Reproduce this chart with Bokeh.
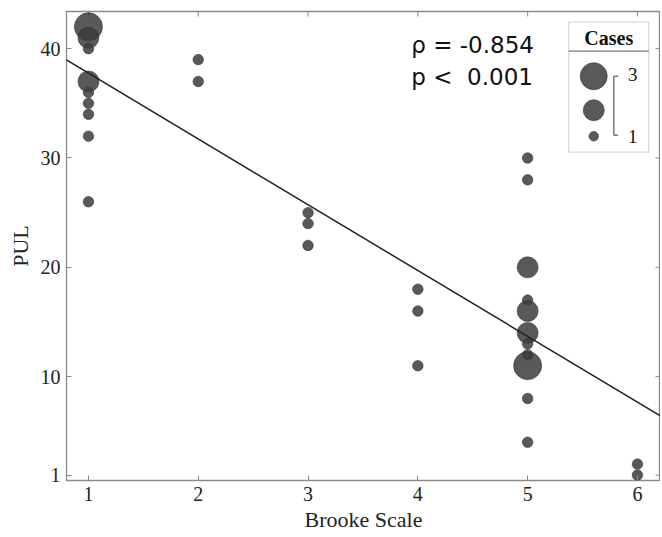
import numpy as np
from bokeh.plotting import figure
from bokeh.models import (ColumnDataSource, FixedTicker, Slope, Label,
                          BoxAnnotation, Range1d)
from bokeh.embed import file_html
from bokeh.resources import INLINE

# ---- data ----
brooke = [1, 1, 1, 1, 1, 1, 1, 1, 1,
          2, 2,
          3, 3, 3,
          4, 4, 4,
          5, 5, 5, 5, 5, 5, 5, 5, 5, 5, 5,
          6, 6]
pul = [42, 41, 40, 37, 36, 35, 34, 32, 26,
       39, 37,
       25, 24, 22,
       18, 16, 11,
       30, 28, 20, 17, 16, 14, 13, 12, 11, 8, 4,
       2, 1]
cases = [3, 2, 1, 2, 1, 1, 1, 1, 1,
         1, 1,
         1, 1, 1,
         1, 1, 1,
         1, 1, 2, 1, 2, 2, 1, 1, 3, 1, 1,
         1, 1]
x_ticks = [1, 2, 3, 4, 5, 6]
y_ticks = [1, 10, 20, 30, 40]
legend_cases = [3, 2, 1]
rho_text = "ρ = -0.854"
p_text = "p <\u00a0 0.001"

bubble_px = {1: 10.5, 2: 21, 3: 28}
legend_px = {1: 9.5, 2: 21, 3: 27}

# weighted linear regression (each point counted by its number of cases)
xa = np.repeat(brooke, cases).astype(float)
ya = np.repeat(pul, cases).astype(float)
slope, intercept = np.polyfit(xa, ya, 1)

X0, X1 = 0.8, 6.21
Y0, Y1 = 0.5, 43.4

src = ColumnDataSource(dict(x=brooke, y=pul, s=[bubble_px[c] for c in cases]))

p = figure(frame_width=594, frame_height=469, output_backend="svg", toolbar_location=None,
           x_range=Range1d(X0, X1), y_range=Range1d(Y0, Y1),
           min_border_left=66, min_border_top=11, min_border_right=0, min_border_bottom=4,
           background_fill_color="white", border_fill_color="white")
p.grid.visible = False
p.outline_line_color = "#8a8a8a"
p.outline_line_width = 1.3

serif = "Liberation Serif"
for ax in (p.xaxis[0], p.yaxis[0]):
    ax.axis_line_color = None
    ax.major_tick_in = 5
    ax.major_tick_out = 0
    ax.minor_tick_line_color = None
    ax.major_tick_line_color = "#8a8a8a"
    ax.major_label_text_font = serif
    ax.major_label_text_font_size = "20px"
    ax.major_label_text_color = "#222222"
    ax.axis_label_text_font = serif
    ax.axis_label_text_font_size = "22px"
    ax.axis_label_text_font_style = "normal"
    ax.axis_label_text_color = "#222222"
p.xaxis.ticker = FixedTicker(ticks=x_ticks)
p.yaxis.ticker = FixedTicker(ticks=y_ticks)
p.xaxis.axis_label = "Brooke Scale"
p.yaxis.axis_label = "PUL"
p.xaxis.major_label_standoff = 6
p.yaxis.major_label_standoff = 6
p.xaxis.axis_label_standoff = 3
p.yaxis.axis_label_standoff = 5

# mirrored ticks on top and right (half of each dash is clipped by the frame)
p.scatter(x=x_ticks, y=[Y1] * len(x_ticks), marker="dash", size=10, angle=np.pi / 2,
          line_color="#8a8a8a", line_width=1)
p.scatter(x=[X1] * len(y_ticks), y=y_ticks, marker="dash", size=10,
          line_color="#8a8a8a", line_width=1)

# regression line
p.add_layout(Slope(gradient=slope, y_intercept=intercept, line_color="#222222", line_width=1.5))

# bubbles
p.scatter("x", "y", size="s", source=src, fill_color="#3c3c3c", fill_alpha=0.85,
          line_color="#333333", line_alpha=0.6, line_width=1)

# statistics text
sans = "DejaVu Sans"
p.add_layout(Label(x=3.94, y=40.3, text=rho_text, text_font=sans, text_font_size="23px",
                   text_baseline="middle", text_color="#111111"))
p.add_layout(Label(x=3.94, y=37.4, text=p_text, text_font=sans, text_font_size="23px",
                   text_baseline="middle", text_color="#111111"))

# size legend ("Cases")
p.add_layout(BoxAnnotation(left=5.374, right=6.103, bottom=30.53, top=42.42,
                           fill_color="white", fill_alpha=1, line_color="#777777",
                           line_width=1.2, level="annotation"))
p.segment(x0=[5.374], x1=[6.103], y0=[39.77], y1=[39.77], line_color="#777777",
          line_width=1.2, level="overlay")
p.add_layout(Label(x=5.739, y=41.0, text="Cases", text_font=serif, text_font_size="20px",
                   text_font_style="bold", text_align="center", text_baseline="middle",
                   text_color="#111111", level="overlay"))
leg_y = [37.48, 34.37, 31.99]
p.scatter(x=[5.602] * 3, y=leg_y, size=[legend_px[c] for c in legend_cases],
          fill_color="#3c3c3c", fill_alpha=0.85, line_color="#333333", line_alpha=0.6,
          level="overlay")
p.segment(x0=[5.785, 5.785, 5.785], x1=[5.785, 5.825, 5.825],
          y0=[37.48, 37.48, 32.09], y1=[32.09, 37.48, 32.09],
          line_color="#555555", line_width=1.2, level="overlay")
p.add_layout(Label(x=5.915, y=37.6, text=str(max(legend_cases)), text_font=serif,
                   text_font_size="19px", text_baseline="middle", text_color="#111111",
                   level="overlay"))
p.add_layout(Label(x=5.915, y=32.0, text=str(min(legend_cases)), text_font=serif,
                   text_font_size="19px", text_baseline="middle", text_color="#111111",
                   level="overlay"))

open("out.html", "w").write(file_html(p, INLINE))
